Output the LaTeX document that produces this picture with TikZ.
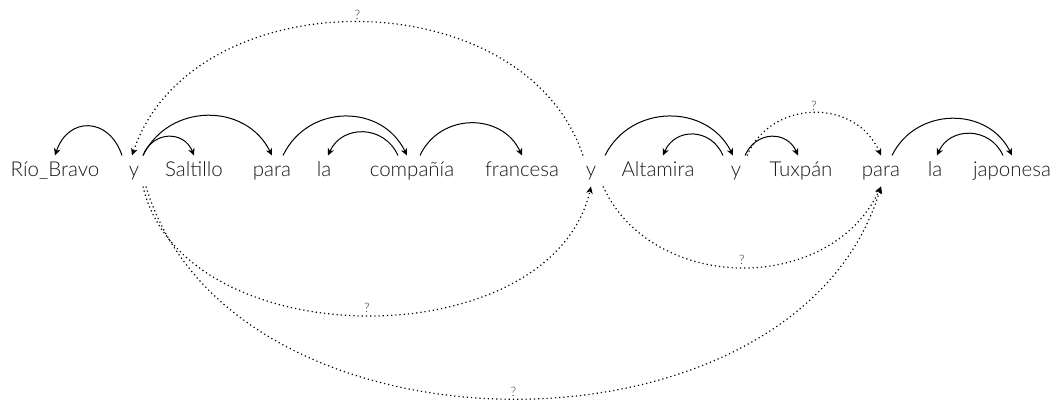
\documentclass[tikz,border=0pt]{standalone}
\usepackage{fontspec}
\setmainfont{Lato Light}
\usetikzlibrary{arrows.meta}
\begin{document}
\begin{tikzpicture}[x=1pt, y=-1pt, >={Stealth[length=7pt, width=6.5pt, inset=2pt]}, line width=1pt,
		word/.style={anchor=base, font=\fontsize{20.5}{24}\selectfont, text=black!90, text height=17pt, text depth=5pt, inner sep=4pt},
		dep/.style={->},
		guess/.style={->, dash pattern=on 1.2pt off 3pt, line width=1.2pt},
		qmark/.style={above, inner sep=2pt, font=\fontsize{13}{15}\selectfont, text=black!80}]
	\useasboundingbox (0,0) rectangle (1061,403);
	
	% Wörter
	\node[word] (rio) at (55,177) {Río\_Bravo};
	\node[word] (ya) at (134,177) {y};
	\node[word] (saltillo) at (194,177) {Saltillo};
	\node[word] (paraa) at (272,177) {para};
	\node[word] (laa) at (324,177) {la};
	\node[word] (compania) at (412,177) {compañía};
	\node[word] (francesa) at (522,177) {francesa};
	\node[word] (yb) at (591,177) {y};
	\node[word] (altamira) at (658,177) {Altamira};
	\node[word] (yc) at (736,177) {y};
	\node[word] (tuxpan) at (801,177) {Tuxpán};
	\node[word] (parab) at (881,177) {para};
	\node[word] (lab) at (935,177) {la};
	\node[word] (japonesa) at (1012,177) {japonesa};
	
	% Abhängigkeiten
	\draw[dep] ([xshift=-12pt]ya.north) .. controls +(-13,-39) and +(13,-39) .. (rio.north);
	\draw[dep] ([xshift=9pt]ya.north) .. controls +(10,-25) and +(-10,-25) .. (saltillo.north);
	\draw[dep] ([xshift=9pt]ya.north) .. controls +(26,-53) and +(-26,-53) .. (paraa.north);
	\draw[dep] ([xshift=11pt]paraa.north) .. controls +(25,-52) and +(-25,-52) .. ([xshift=-5pt]compania.north);
	\draw[dep] ([xshift=-14pt]compania.north) .. controls +(-14,-31) and +(14,-31) .. ([xshift=4pt]laa.north);
	\draw[dep] ([xshift=8pt]compania.north) .. controls +(20,-43) and +(-20,-43) .. (francesa.north);
	\draw[dep] ([xshift=14pt]yb.north) .. controls +(26,-52) and +(-26,-52) .. ([xshift=-3pt]yc.north);
	\draw[dep] ([xshift=-13pt]yc.north) .. controls +(-12,-28) and +(12,-28) .. ([xshift=5pt]altamira.north);
	\draw[dep] ([xshift=9pt]yc.north) .. controls +(11,-25) and +(-11,-25) .. ([xshift=-3pt]tuxpan.north);
	\draw[dep] ([xshift=11pt]parab.north) .. controls +(24,-49) and +(-24,-49) .. (japonesa.north);
	\draw[dep] ([xshift=-9pt]japonesa.north) .. controls +(-13,-29) and +(13,-29) .. ([xshift=2pt]lab.north);
	
	% unsichere Kanten
	\draw[guess] ([xshift=-8pt]yb.north) .. controls +(-60,-178) and +(60,-178) .. node[qmark] {?} ([xshift=-2pt]ya.north);
	\draw[guess] ([xshift=11pt]yc.north) .. controls +(25,-57) and +(-25,-57) .. node[qmark] {?} (parab.north);
	\draw[guess] ([xshift=9pt]ya.south) .. controls +(40,172) and +(-40,172) .. node[qmark] {?} (yb.south);
	\draw[guess] ([xshift=12pt]yb.south) .. controls +(50,108) and +(-50,108) .. node[qmark] {?} (parab.south);
	\draw[guess] ([xshift=12pt]ya.south) .. controls +(85,283) and +(-85,283) .. node[qmark] {?} (parab.south);
\end{tikzpicture}
\end{document}
